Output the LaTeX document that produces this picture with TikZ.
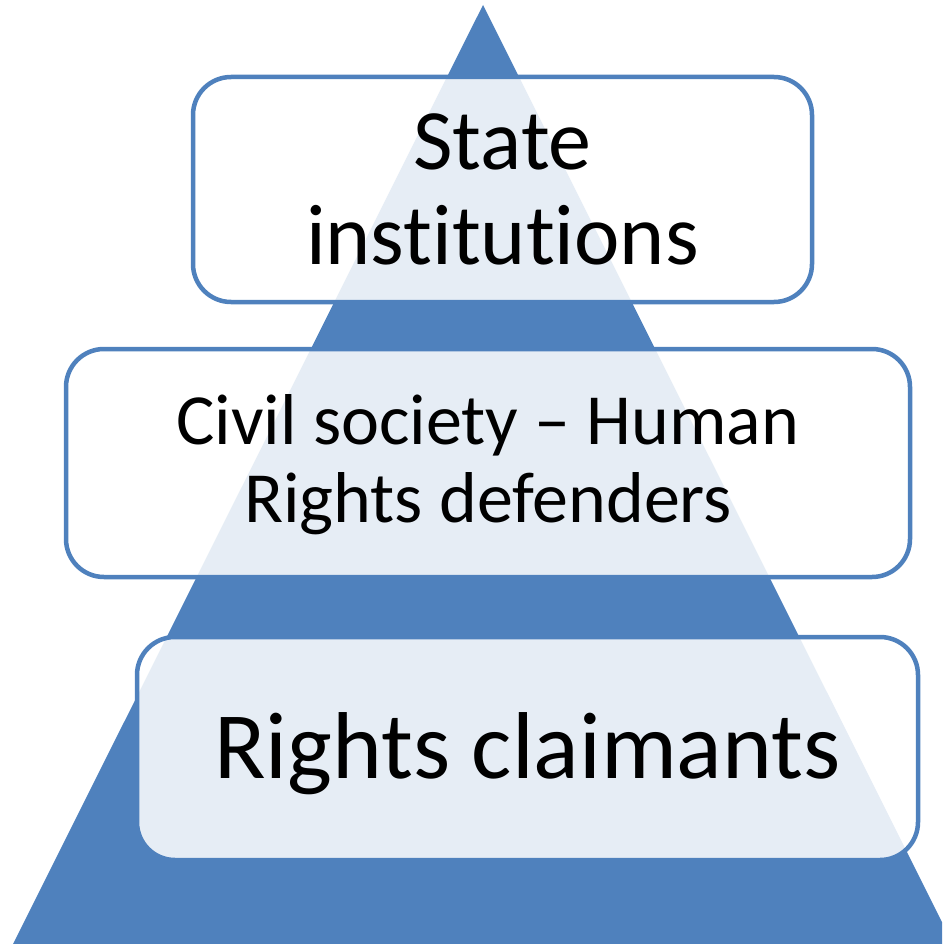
\documentclass[tikz,border=0pt]{standalone}
\usepackage{fontspec}
\setmainfont{Carlito}[Ligatures={NoCommon}]
\definecolor{pyrblue}{HTML}{4F81BD}
\begin{document}
\begin{tikzpicture}[x=1pt,y=-1pt,
  tier/.style={draw=pyrblue, line width=4.5pt, rounded corners=38pt, fill=white, fill opacity=0.86, text opacity=1, inner sep=0pt, align=center, text=black},
  tiertext/.style={align=center, inner sep=0pt, text=black}]
\useasboundingbox (0,0) rectangle (942,944);
\begin{scope}
\clip (0,0) rectangle (942,944);
\fill[pyrblue] (483,5) -- (953,944) -- (13,944) -- cycle;
\end{scope}
\node[tier, minimum width=619pt, minimum height=225pt] (state) at (502.5,189.5) {};
\node[tiertext, font=\fontsize{86}{95}\selectfont] (statetxt) at (502.5,189) {State\\institutions};
\node[tier, minimum width=844pt, minimum height=228pt] (civil) at (488,463) {};
\node[tiertext, font=\fontsize{72}{78}\selectfont] (civiltxt) at (488,465) {Civil society – Human\\Rights defenders};
\node[tier, minimum width=781pt, minimum height=223pt] (claim) at (527.5,748.5) {};
\node[tiertext, font=\fontsize{95}{100}\selectfont] (claimtxt) at (527.5,754) {Rights claimants};
\end{tikzpicture}
\end{document}
